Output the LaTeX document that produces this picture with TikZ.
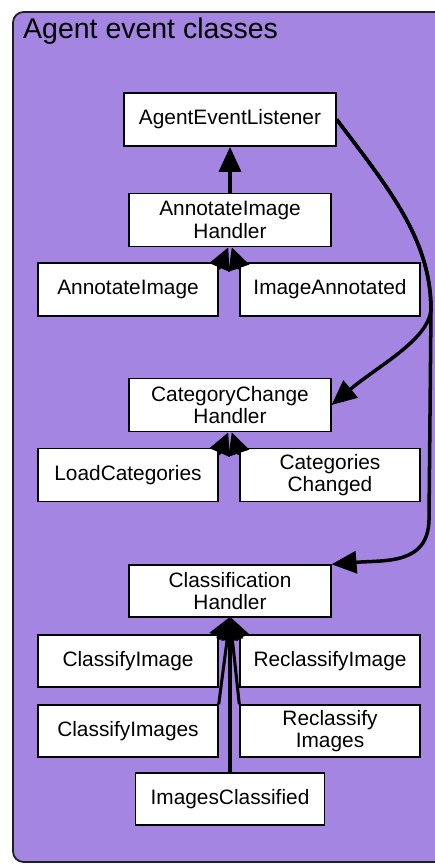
\documentclass[tikz,border=0pt]{standalone}
\usepackage{fontspec}
\setmainfont{Liberation Sans}
\usetikzlibrary{arrows.meta}
\definecolor{agentpurple}{RGB}{165,133,226}
\definecolor{framegray}{RGB}{30,30,35}

\begin{document}
\begin{tikzpicture}[x=0.3mm, y=-0.3mm,
    cls/.style={rectangle, draw=black, fill=white, line width=1.2pt,
                minimum width=5.4cm, minimum height=1.6cm, inner sep=0pt,
                align=center, font=\fontsize{17.8}{19}\selectfont},
    handler/.style={cls, minimum width=6.05cm},
    arrow/.style={-{Triangle[length=7.5mm,width=6.6mm]}, line width=3pt},
    subarrow/.style={-{Triangle[length=6.6mm,width=6.4mm]}, line width=2.6pt}
  ]
    \useasboundingbox (0,0) rectangle (435,866);
    \begin{scope}
      \clip (0,0) rectangle (435,866);
      \draw[framegray, line width=1.5pt, fill=agentpurple, rounded corners=9pt]
        (13,12) rectangle (470,862);
    \end{scope}
    \node[anchor=base west, inner sep=0pt, font=\fontsize{24.3}{28}\selectfont]
      (title) at (23,38) {Agent event classes};

    \node[handler, minimum width=6.36cm] (ael) at (230,119.5) {AgentEventListener};
    \node[handler] (aih) at (230,220)   {AnnotateImage\\Handler};
    \node[cls]     (ai)  at (128,289.5) {AnnotateImage};
    \node[cls]     (ia)  at (330,289.5) {ImageAnnotated};
    \node[handler] (cch) at (230,405)   {CategoryChange\\Handler};
    \node[cls]     (lc)  at (128,475)   {LoadCategories};
    \node[cls]     (cc)  at (330,475)   {Categories\\Changed};
    \node[handler, minimum height=1.56cm] (ch)  at (230,591) {Classification\\Handler};
    \node[cls, minimum height=1.56cm]     (ci)  at (128,661) {ClassifyImage};
    \node[cls, minimum height=1.56cm]     (ri)  at (330,661) {ReclassifyImage};
    \node[cls, minimum height=1.56cm]     (cis) at (128,731) {ClassifyImages};
    \node[cls, minimum height=1.56cm]     (ris) at (330,731) {Reclassify\\Images};
    \node[cls, minimum width=5.67cm, minimum height=1.56cm] (ic) at (230,799) {ImagesClassified};

    \draw[arrow] (aih) -- (ael);
    \draw[subarrow] ([yshift=-6pt]ai.north east) -- ([xshift=-1.5pt]aih.south);
    \draw[subarrow] ([yshift=-6pt]ia.north west) -- ([xshift=1.5pt]aih.south);
    \draw[subarrow] ([yshift=-6pt]lc.north east) -- ([xshift=-1.5pt]cch.south);
    \draw[subarrow] ([yshift=-6pt]cc.north west) -- ([xshift=1.5pt]cch.south);
    \draw[subarrow] (cis.north east) -- (ch.south);
    \draw[subarrow] (ris.north west) -- (ch.south);
    \draw[subarrow] ([yshift=-4pt]ci.north east) -- ([xshift=-1pt]ch.south);
    \draw[subarrow] ([yshift=-4pt]ri.north west) -- ([xshift=1pt]ch.south);
    \draw[subarrow] (ic) -- (ch);
    \draw[arrow] (ael.east) .. controls (390,190) and (431,240) .. (431,310)
      .. controls (428,340) and (378,366) .. (cch.east);
    \draw[arrow] (ael.east) .. controls (390,190) and (431,240) .. (431,310)
      -- (429,520) .. controls (428,565) and (385,560) .. (ch.north east);
  \end{tikzpicture}
\end{document}
